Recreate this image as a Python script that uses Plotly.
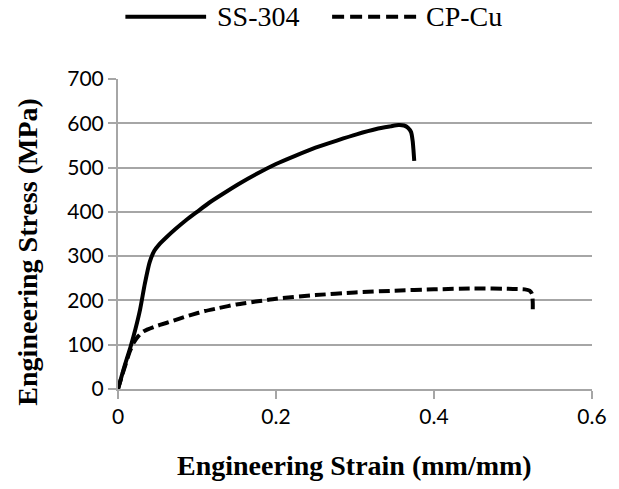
import plotly.graph_objects as go

# Engineering stress-strain curves
ss304_strain = [0, 0.008, 0.016, 0.022, 0.028, 0.034, 0.040, 0.046, 0.052, 0.061, 0.072,
                0.086, 0.100, 0.115, 0.135, 0.155, 0.177, 0.200, 0.225, 0.250, 0.277,
                0.302, 0.327, 0.345, 0.355, 0.362, 0.367, 0.371, 0.373, 0.374, 0.375]
ss304_stress = [0, 50, 96, 135, 180, 238, 286, 312, 326, 342, 360,
                381, 400, 420, 443, 465, 487, 508, 527, 545, 561,
                575, 587, 593, 596, 595, 590, 580, 560, 540, 515]

cpcu_strain = [0, 0.005, 0.010, 0.015, 0.020, 0.026, 0.032, 0.045, 0.061, 0.078, 0.094,
               0.110, 0.128, 0.150, 0.177, 0.200, 0.250, 0.300, 0.350, 0.400, 0.450,
               0.500, 0.515, 0.521, 0.524, 0.525, 0.525]
cpcu_stress = [0, 30, 58, 85, 105, 120, 130, 140, 149, 159, 168,
               176, 183, 191, 198, 204, 212, 218, 222, 225, 227,
               226, 225, 222, 215, 195, 172]

x_ticks = [0, 0.2, 0.4, 0.6]
x_ticklabels = ["0", "0.2", "0.4", "0.6"]
y_ticks = [0, 100, 200, 300, 400, 500, 600, 700]

W, H = 619, 489
L, R, T, B = 117.5, 20, 79.3, 99.7
pw, ph = W - L - R, H - T - B

def px(x):
    return (x - L) / pw

def py(y):
    return (H - B - y) / ph

fig = go.Figure()
fig.add_trace(go.Scatter(x=ss304_strain, y=ss304_stress, mode="lines", name="SS-304",
                         line=dict(color="black", width=4, shape="spline", smoothing=0.6),
                         showlegend=False))
fig.add_trace(go.Scatter(x=cpcu_strain, y=cpcu_stress, mode="lines", name="CP-Cu",
                         line=dict(color="black", width=4, dash="11px,5px",
                                   shape="spline", smoothing=0.6),
                         showlegend=False))

grid = "#a6a6a6"
tickfont = dict(family="Lato, Liberation Sans, sans-serif", size=21, color="black")

fig.update_xaxes(range=[0, 0.6], tickvals=x_ticks, ticktext=x_ticklabels,
                 showgrid=False, zeroline=False, showline=True, linecolor=grid,
                 linewidth=2, ticks="outside", ticklen=8, tickwidth=2, tickcolor=grid,
                 tickfont=tickfont)
fig.update_yaxes(range=[0, 700], tickvals=y_ticks, showgrid=True, gridcolor=grid,
                 gridwidth=2, zeroline=False, showline=True, linecolor=grid,
                 linewidth=2, ticks="outside", ticklen=8, tickwidth=2, tickcolor=grid,
                 tickfont=tickfont)

serif = "Liberation Serif, Times New Roman, serif"
annotations = [
    dict(text="<b>Engineering Strain (mm/mm)</b>", x=px(358), y=py(466),
         xref="paper", yref="paper", showarrow=False, xanchor="center", yanchor="middle",
         font=dict(family=serif, size=28, color="black")),
    dict(text="<b>Engineering Stress (MPa)</b>", x=px(26), y=py(252),
         xref="paper", yref="paper", showarrow=False, xanchor="center", yanchor="middle",
         textangle=-90, font=dict(family=serif, size=28, color="black")),
    dict(text="SS-304", x=px(216), y=py(17), xref="paper", yref="paper", showarrow=False,
         xanchor="left", yanchor="middle", font=dict(family=serif, size=28, color="black")),
    dict(text="CP-Cu", x=px(428), y=py(17), xref="paper", yref="paper", showarrow=False,
         xanchor="left", yanchor="middle", font=dict(family=serif, size=28, color="black")),
]

shapes = [
    dict(type="line", xref="paper", yref="paper", x0=px(125), x1=px(207), y0=py(17), y1=py(17),
         line=dict(color="black", width=4)),
    dict(type="line", xref="paper", yref="paper", x0=px(335), x1=px(425), y0=py(17), y1=py(17),
         line=dict(color="black", width=4, dash="12px,6px")),
]

fig.update_layout(width=W, height=H, margin=dict(l=L, r=R, t=T, b=B),
                  paper_bgcolor="white", plot_bgcolor="white",
                  annotations=annotations, shapes=shapes, showlegend=False)

fig.write_html("out.html")
